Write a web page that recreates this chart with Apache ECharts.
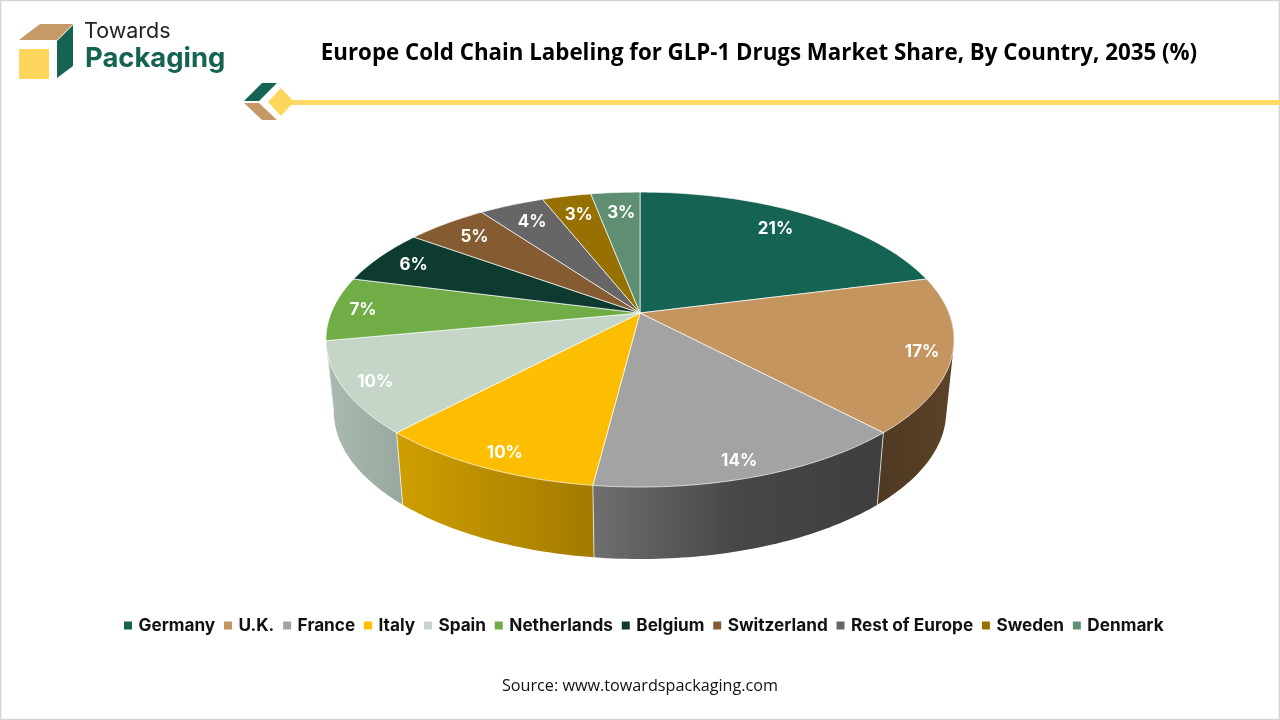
<!DOCTYPE html>
<html><head><meta charset="utf-8">
<style>html,body{margin:0;padding:0;background:#fff}#c{width:1280px;height:720px}</style>
<script src="https://cdn.jsdelivr.net/npm/echarts@6/dist/echarts.min.js"></script>
</head><body><div id="c"></div>
<script>
const countries = ['Germany','U.K.','France','Italy','Spain','Netherlands','Belgium','Switzerland','Rest of Europe','Sweden','Denmark'];
const shares = [21,17,14,10,10,7,6,5,4,3,3];
const labels = ['21%','17%','14%','10%','10%','7%','6%','5%','4%','3%','3%'];
const topColors = ['#156352','#C59560','#A3A3A3','#FDBD00','#C5D6C8','#70AD47','#0E3B30','#855C32','#666666','#967000','#5E8F72'];
const wallLeft = [null,'#4e3922','#6e6e6e','#cf9f00','#a9bab0',null,null,null,null,null,null];
const wallMid = [null,'#553d25','#474747','#b98c00','#a0b1a7',null,null,null,null,null,null];
const wallRight = [null,'#5c4228','#3e3e3e','#a37a00','#98a89e',null,null,null,null,null,null];
const labelNudgeX = [-7,2,-4,6,2,-4,1,2,2,1,2];

// Perspective of the disc
const K = 0.18, A = 308.9, B = 142.7, DEPTH = 72, BOTTOM_SCALE = 0.975;
function project(deg, r) {
  const t = deg * Math.PI / 180, u = r * Math.sin(t), v = r * Math.cos(t), w = 1 + K * v;
  return [A * u / w, B * v / w];
}
function lowered(p) { return [p[0] * BOTTOM_SCALE, p[1] - DEPTH]; }
function convexHull(pts) {
  const s = pts.slice().sort((a, b) => a[0] - b[0] || a[1] - b[1]);
  const cross = (o, a, b) => (a[0] - o[0]) * (b[1] - o[1]) - (a[1] - o[1]) * (b[0] - o[0]);
  const half = list => {
    const h = [];
    for (const p of list) {
      while (h.length > 1 && cross(h[h.length - 2], h[h.length - 1], p) <= 0) h.pop();
      h.push(p);
    }
    h.pop();
    return h;
  };
  return half(s).concat(half(s.slice().reverse()));
}

const total = shares.reduce((a, b) => a + b, 0);
let running = 0;
const seriesList = countries.map((name, i) => {
  const start = running; running += shares[i];
  return {
    name, type: 'custom', coordinateSystem: 'cartesian2d', clip: false, silent: true,
    itemStyle: { color: topColors[i] },
    data: [[start, shares[i]]],
    encode: { x: 0, y: 1 },
    renderItem(params, api) {
      const a0 = api.value(0) / total * 360, a1 = a0 + api.value(1) / total * 360;
      const arc = [];
      const n = Math.max(2, Math.ceil(a1 - a0));
      for (let j = 0; j <= n; j++) arc.push(project(a0 + (a1 - a0) * j / n, 1));
      const px = p => api.coord(p);
      const children = [];
      if (wallLeft[i]) {
        children.push({
          type: 'polygon', z2: 1,
          shape: { points: convexHull(arc.concat(arc.map(lowered)).map(px)) },
          style: { fill: new echarts.graphic.LinearGradient(0, 0, 1, 0, [
            { offset: 0, color: wallLeft[i] }, { offset: 0.5, color: wallMid[i] }, { offset: 1, color: wallRight[i] }]) }
        });
        const a = px(arc[n]), b = px(lowered(arc[n]));
        children.push({ type: 'line', z2: 2,
          shape: { x1: a[0], y1: a[1], x2: b[0], y2: b[1] },
          style: { stroke: 'rgba(255,255,255,0.7)', lineWidth: 1 } });
      }
      children.push({
        type: 'polygon', z2: 5,
        shape: { points: [[0, 0]].concat(arc).map(px) },
        style: { fill: topColors[i], stroke: 'rgba(255,255,255,0.75)', lineWidth: 0.9, lineJoin: 'round' }
      });
      const mid = (a0 + a1) / 2, t = mid * Math.PI / 180;
      const r = 0.86 - 0.045 * Math.cos(t) + 0.03 * Math.abs(Math.sin(t));
      const lp = px(project(mid, r));
      children.push({
        type: 'text', z2: 10, x: lp[0] + labelNudgeX[i], y: lp[1] + 1,
        style: { text: labels[i], fill: '#fff', align: 'center', verticalAlign: 'middle',
          font: '700 17px Inter, sans-serif' }
      });
      return { type: 'group', children };
    }
  };
});

const chart = echarts.init(document.getElementById('c'), null, { renderer: 'canvas' });
chart.setOption({
  animation: false,
  backgroundColor: '#fff',
  title: {
    text: 'Europe Cold Chain Labeling for GLP-1 Drugs Market Share, By Country, 2035 (%)',
    left: 754, top: 38, textAlign: 'center',
    textStyle: { color: '#000', fontFamily: 'Open Sans', fontWeight: 'bold', fontSize: 22.3 }
  },
  legend: {
    data: countries, left: 119, top: 612, itemWidth: 8, itemHeight: 8, itemGap: 8.8,
    icon: 'rect', selectedMode: false,
    textStyle: { color: '#111', fontFamily: 'Inter', fontWeight: 700, fontSize: 17.2, padding: [0, 0, 0, 1.5] }
  },
  grid: { left: 326, right: 326, top: 192, height: 295 },
  xAxis: { type: 'value', min: -314, max: 314, show: false },
  yAxis: { type: 'value', min: -174, max: 121, show: false },
  series: seriesList,
  graphic: [
    { type: 'rect', shape: { x: 0.5, y: 0.5, width: 1279, height: 719 }, style: { fill: 'none', stroke: '#d4d4d4', lineWidth: 1.5 }, silent: true },
    { type: 'polygon', shape: { points: [[19,40],[40,24],[73,24],[57,40]] }, style: { fill: '#C59A66' } },
    { type: 'polygon', shape: { points: [[57,41],[73,25],[73,66],[57,78]] }, style: { fill: '#156352' } },
    { type: 'rect', shape: { x: 19, y: 49, width: 30, height: 30 }, style: { fill: '#FFD65C' } },
    { type: 'text', x: 84, y: 32, style: { text: 'Towards', fill: '#222', font: '400 21.5px Inter, sans-serif', verticalAlign: 'middle' } },
    { type: 'text', x: 85, y: 59, style: { text: 'Packaging', fill: '#156352', font: '700 27.4px Inter, sans-serif', verticalAlign: 'middle' } },
    { type: 'polygon', shape: { points: [[244,101],[262,83],[277,83],[259,101]] }, style: { fill: '#156352' } },
    { type: 'polygon', shape: { points: [[244,103],[259,103],[277,120],[262,120]] }, style: { fill: '#C59A66' } },
    { type: 'rect', shape: { x: 285, y: 100, width: 995, height: 5 }, style: { fill: '#FFD966' } },
    { type: 'polygon', shape: { points: [[268,102],[281,88],[294,102],[281,116]] }, style: { fill: '#FFD65C' } },
    { type: 'text', x: 640, y: 686, style: { text: 'Source: www.towardspackaging.com', fill: '#111', align: 'center', verticalAlign: 'middle', font: '16.2px "Open Sans", sans-serif' } }
  ]
});
</script></body></html>
